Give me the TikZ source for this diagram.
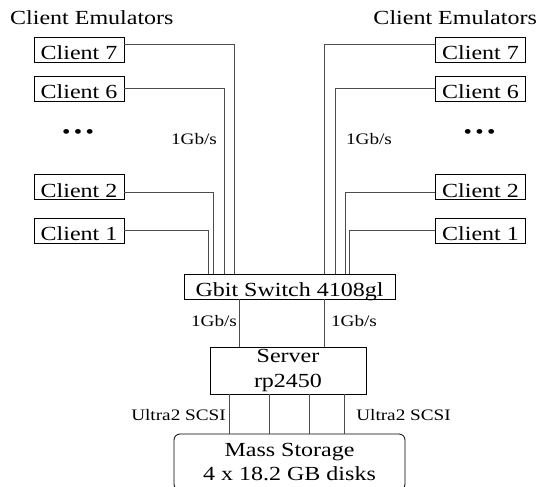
\documentclass[tikz,border=0pt]{standalone}
\usepackage{fontspec}
\setmainfont[FakeStretch=1.2]{Liberation Serif}
\usetikzlibrary{positioning}

\begin{document}
\begin{tikzpicture}
  [x=1pt,y=-1pt,
   box/.style={draw,line width=0.8pt,inner xsep=0pt,inner ysep=2.5pt,
     text height=20pt,text depth=0pt,font=\fontsize{20}{25}\selectfont},
   client/.style={box,minimum width=90pt,minimum height=25pt},
   bigbox/.style={draw,line width=0.8pt,inner sep=0pt,align=center,
     font=\fontsize{20}{24.5}\selectfont},
   plain/.style={inner sep=0pt,font=\fontsize{20}{25}\selectfont},
   rate/.style={inner sep=0pt,font=\fontsize{16}{19}\selectfont},
   link/.style={black!70,line width=1pt}]

  \clip (0,0) rectangle (538,487);

  % client emulators
  \node[plain,anchor=base west] (emuL) at (10,25) {Client Emulators};
  \node[plain,anchor=base east] (emuR) at (537,25) {Client Emulators};

  \node[client] (l7) at (79,49.5) {Client 7};
  \node[client] (l6) at (79,88.5) {Client 6};
  \node[plain]  (dotsL) at (78,134) {\textbullet\,\textbullet\,\textbullet};
  \node[client] (l2) at (79,187) {Client 2};
  \node[client] (l1) at (79,230.5) {Client 1};

  \node[client] (r7) at (480.5,49.5) {Client 7};
  \node[client] (r6) at (480.5,88.5) {Client 6};
  \node[plain]  (dotsR) at (479.5,134) {\textbullet\,\textbullet\,\textbullet};
  \node[client] (r2) at (480.5,187) {Client 2};
  \node[client] (r1) at (480.5,230.5) {Client 1};

  % switch, server and disks
  \node[box,minimum width=211pt,minimum height=25pt] (sw) at (289.5,286.5) {Gbit Switch 4108gl};
  \node[bigbox,minimum width=156pt,minimum height=47pt] (srv) at (288,370.5) {Server\\rp2450};
  \node[bigbox,rounded corners=6pt,minimum width=231pt,minimum height=56pt] (ms) at (289.5,462) {Mass Storage\\4 x 18.2 GB disks};

  \node[rate] (rateL)  at (194,139) {1Gb/s};
  \node[rate] (rateR)  at (369,139) {1Gb/s};
  \node[rate] (rateSL) at (214,321) {1Gb/s};
  \node[rate] (rateSR) at (354,321) {1Gb/s};
  \node[rate] (scsiL)  at (178.5,415) {Ultra2 SCSI};
  \node[rate] (scsiR)  at (403.5,415) {Ultra2 SCSI};

  % client links into the switch
  \draw[link] ([yshift=4.5pt]l7.east) -| ([xshift=51pt]sw.north west);
  \draw[link] (l6.east) -| ([xshift=41pt]sw.north west);
  \draw[link] ([yshift=-5pt]l2.east) -| ([xshift=30pt]sw.north west);
  \draw[link] (l1.east) -| ([xshift=25pt]sw.north west);

  \draw[link] ([yshift=4.5pt]r7.west) -| ([xshift=141pt]sw.north west);
  \draw[link] (r6.west) -| ([xshift=152pt]sw.north west);
  \draw[link] ([yshift=-5pt]r2.west) -| ([xshift=162pt]sw.north west);
  \draw[link] (r1.west) -| ([xshift=166pt]sw.north west);

  % switch to server
  \foreach \dx in {56,141} {
    \coordinate (t\dx) at ([xshift=\dx pt]sw.south west);
    \draw[link] (t\dx) -- (t\dx |- srv.north);
  }

  % server to disks
  \foreach \dx in {20,60,100,135} {
    \coordinate (s\dx) at ([xshift=\dx pt]srv.south west);
    \draw[link] (s\dx) -- (s\dx |- ms.north);
  }

\end{tikzpicture}
\end{document}
